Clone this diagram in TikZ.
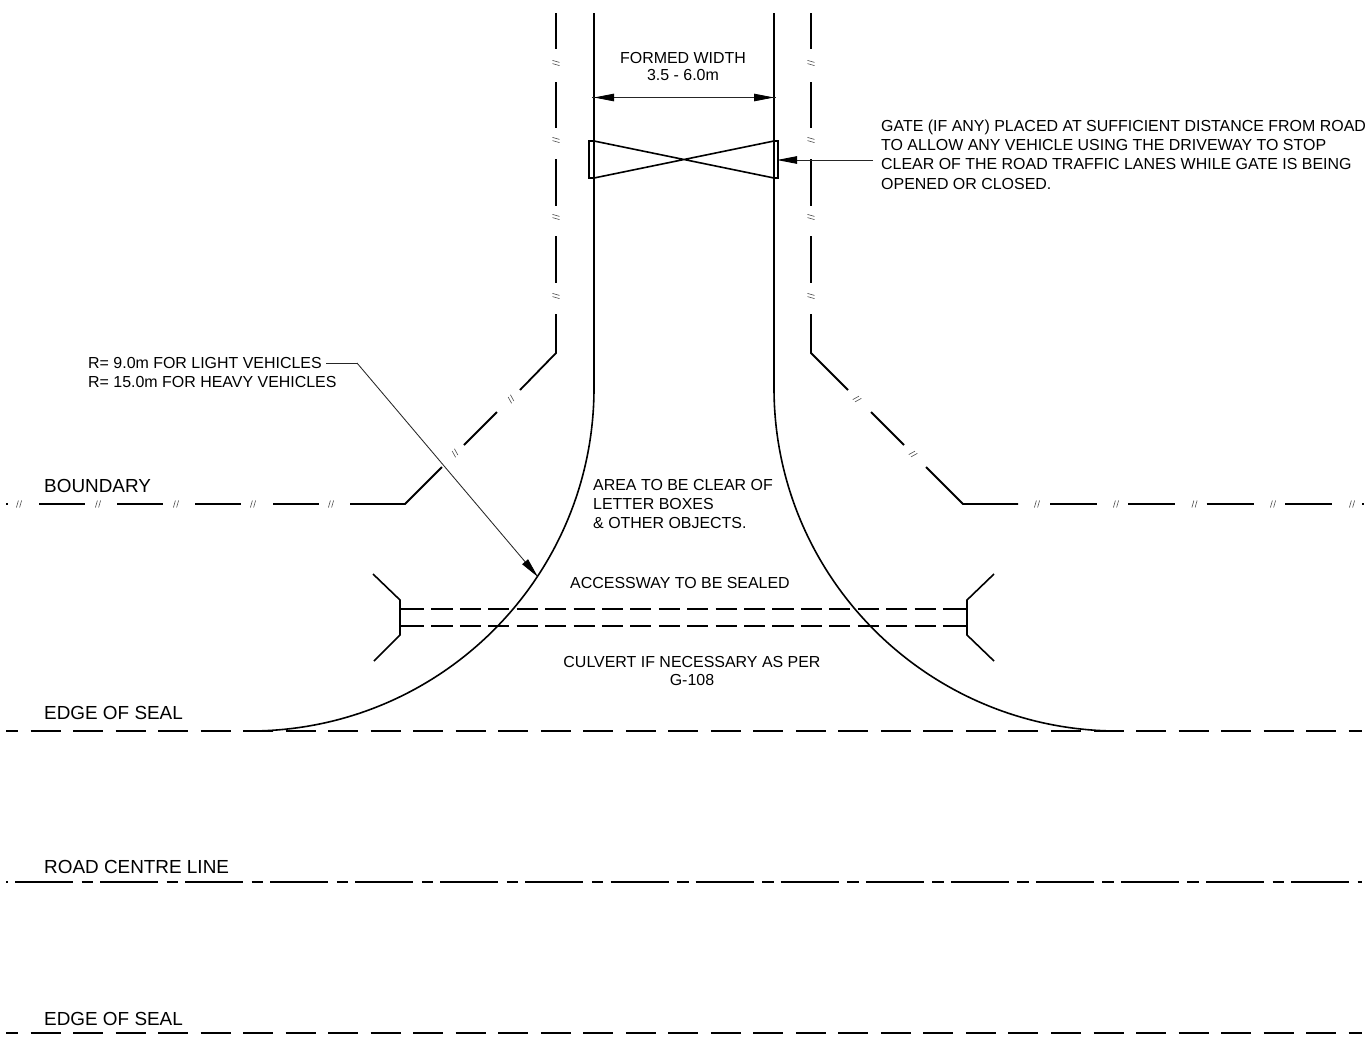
\documentclass[tikz,border=0pt]{standalone}
\usepackage{fontspec}
\setmainfont{Liberation Sans}
\usetikzlibrary{arrows.meta}
\tikzset{
  every picture/.style={x=1pt,y=-1pt},
  heavy/.style={line width=1.6pt,black},
  bound/.style={line width=1.8pt,black},
  fine/.style={line width=0.85pt,black!85},
  seal/.style={line width=1.6pt,black,dash pattern=on 30pt off 12.52pt,dash phase=18pt},
  centreline/.style={line width=1.6pt,black,dash pattern=on 58pt off 8.5pt on 11.5pt off 7.07pt,dash phase=76pt},
  culv/.style={line width=1.6pt,black,dash pattern=on 21.1pt off 7.32pt},
  tip/.style={-{Triangle[length=20pt,width=7.5pt,color=black]}},
  small/.style={inner sep=0pt,font=\fontsize{15.95pt}{19.3pt}\selectfont,text=black},
  big/.style={inner sep=0pt,anchor=west,font=\fontsize{18.9pt}{22pt}\selectfont,text=black},
  brk/.pic={\draw[line width=0.6pt,black!70] (-2.6,3.5)--(-0.6,-3.5) (0.6,3.5)--(2.6,-3.5);}
}
\begin{document}
\begin{tikzpicture}
\useasboundingbox (0,0) rectangle (1366,1045);
% road edges and returns
\coordinate (LT) at (594,13); \coordinate (LB) at (594,388);
\coordinate (RT) at (774,13); \coordinate (RB) at (774,388);
\draw[heavy] (LT) -- (LB) arc[start angle=0,end angle=90,x radius=344,y radius=343];
\draw[heavy] (RT) -- (RB) arc[start angle=180,end angle=90,x radius=344,y radius=343];
% boundary, vertical parts
\foreach \xx in {556,811}{
  \foreach \ya/\yb in {13/49,82/128,159/206,236/283}{\draw[bound] (\xx,\ya) -- (\xx,\yb);}
  \foreach \yy in {63,140,217,296}{\pic[rotate=90] at (\xx,\yy) {brk};}
}
% boundary left
\draw[bound] (556,314) -- (556,353) -- (520,390);
\draw[bound] (497,412) -- (464,445);
\draw[bound] (442,467) -- (405,504) -- (350,504);
\foreach \a/\b in {273/319,195/241,117/163,39/85}{\draw[bound] (\a,504) -- (\b,504);}
\foreach \xx in {331,253,176,98,19}{\pic at (\xx,504) {brk};}
\pic[rotate=45] at (511,399) {brk};
\pic[rotate=45] at (455,453) {brk};
\draw[bound] (6,504) -- (8,504);
% boundary right
\draw[bound] (811,314) -- (811,353) -- (848,390);
\draw[bound] (871,412) -- (904,445);
\draw[bound] (926,467) -- (963,504) -- (1018,504);
\foreach \a/\b in {1050/1097,1128/1175,1206.5/1254,1285/1332}{\draw[bound] (\a,504) -- (\b,504);}
\foreach \xx in {1037,1116,1194.5,1273,1352}{\pic at (\xx,504) {brk};}
\pic[rotate=-45] at (857,399) {brk};
\pic[rotate=-45] at (913,454) {brk};
\draw[bound] (1362,504) -- (1364,504);
% gate
\draw[heavy] (594,141) -- (589,141) -- (589,178) -- (594,178) -- (774,141) -- (778,141) -- (778,178) -- (774,178) -- cycle;
% dimension
\coordinate (DL) at (594,97.5); \coordinate (DR) at (774,97.5);
\draw[fine] (592,97.5) -- (776,97.5);
\draw[fine,tip] (683,97.5) -- (DL);
\draw[fine,tip] (683,97.5) -- (DR);
% gate leader
\coordinate (GT) at (777,160); \coordinate (GE) at (873,160);
\draw[fine,tip] (GE) -- (GT);
% radius leader
\coordinate (R0) at (326,363); \coordinate (R1) at (357,363); \coordinate (R2) at (538,577);
\draw[fine] (R0) -- (R1);
\draw[fine,tip] (R1) -- (R2);
% culvert
\draw[heavy] (373,574) -- (400,600) -- (400,635) -- (374,661);
\draw[heavy] (994,574) -- (967,600) -- (967,635) -- (994,661);
\foreach \yy in {609,626}{
  \draw[heavy] (400,\yy) -- (410,\yy);
  \draw[culv] (403,\yy) -- (967,\yy);
  \draw[heavy] (955,\yy) -- (967,\yy);
}
% road lines
\draw[seal] (6,731) -- (1362,731);
\draw[centreline] (6,882) -- (1362,882);
\draw[seal] (6,1033) -- (1362,1033);
% labels
\node[small,align=center,anchor=center] (fw) at (683,66.5) {FORMED WIDTH\\[-2.5pt]3.5 - 6.0m};
\node[small,align=left,anchor=west] (gate) at (881,154.5) {GATE (IF ANY) PLACED AT SUFFICIENT DISTANCE FROM ROAD\\TO ALLOW ANY VEHICLE USING THE DRIVEWAY TO STOP\\CLEAR OF THE ROAD TRAFFIC LANES WHILE GATE IS BEING\\OPENED OR CLOSED.};
\node[small,align=left,anchor=west] (rr) at (88,372.5) {R= 9.0m FOR LIGHT VEHICLES\\R= 15.0m FOR HEAVY VEHICLES};
\node[small,align=left,anchor=west] (area) at (593,504) {AREA TO BE CLEAR OF\\LETTER BOXES\\\& OTHER OBJECTS.};
\node[small,anchor=center] (acc) at (680,583) {ACCESSWAY TO BE SEALED};
\node[small,align=center,anchor=center] (culvt) at (692,671) {CULVERT IF NECESSARY AS PER\\[-1.5pt]G-108};
\node[big] (bd) at (44,486) {BOUNDARY};
\node[big] (es1) at (44,713) {EDGE OF SEAL};
\node[big] (rc) at (44,867) {ROAD CENTRE LINE};
\node[big] (es2) at (44,1019) {EDGE OF SEAL};
\end{tikzpicture}
\end{document}
